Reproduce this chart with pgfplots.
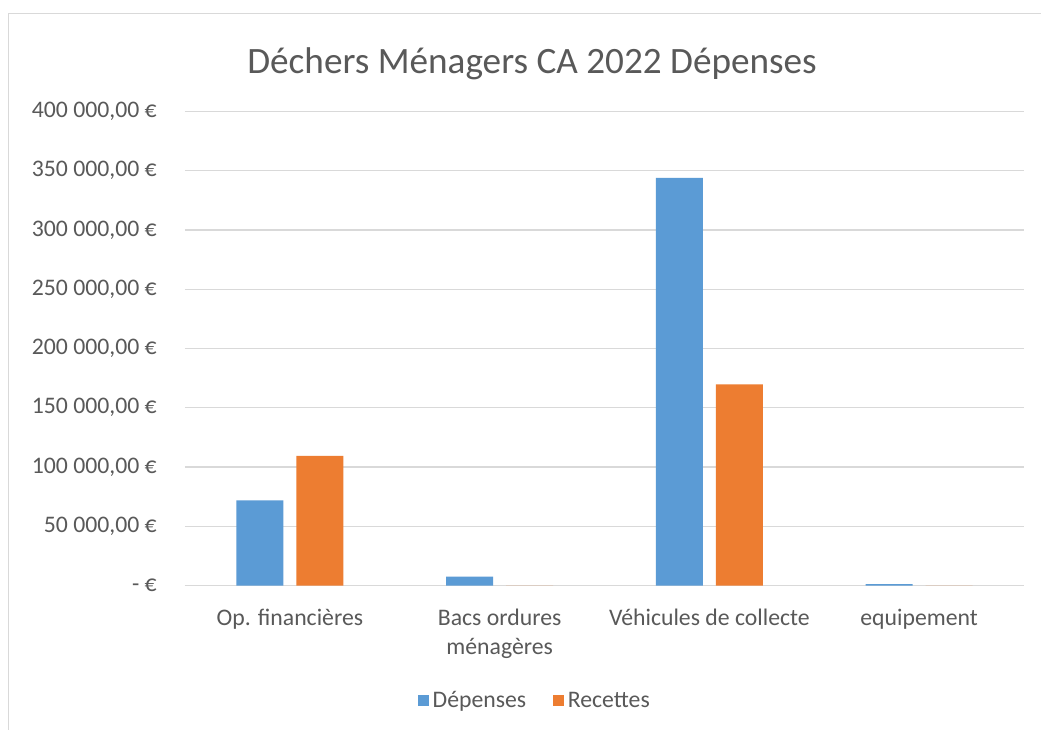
\documentclass[border=0pt]{standalone}
\usepackage{fontspec}
\setmainfont{Carlito}
\usepackage{pgfplots}
\pgfplotsset{compat=1.18}
\definecolor{cblue}{HTML}{5B9BD5}
\definecolor{corange}{HTML}{ED7D31}
\definecolor{ctext}{HTML}{595959}
\definecolor{cgrid}{HTML}{D9D9D9}
\begin{document}
\begin{tikzpicture}
\useasboundingbox (0,0) rectangle (780.75pt,546.75pt);
\fill[white] (0,0) rectangle (780.75pt,546.75pt);
\draw[cgrid, line width=1.25pt] (6.375pt,-10pt) -- (6.375pt,536.6pt) -- (800pt,536.6pt);
\begin{axis}[
  at={(138.75pt,107.475pt)}, anchor=south west,
  scale only axis, width=629.25pt, height=355.8pt,
  ybar=9.75pt, bar width=35.25pt,
  ymin=0, ymax=400000,
  xmin=-0.5, xmax=3.5,
  xtick={0,1,2,3},
  xticklabels={Op. financières, {Bacs ordures\\ménagères}, Véhicules de collecte, equipement},
  ytick={0,50000,...,400000},
  yticklabels={{- €},{50 000,00 €},{100 000,00 €},{150 000,00 €},{200 000,00 €},{250 000,00 €},{300 000,00 €},{350 000,00 €},{400 000,00 €}},
  scaled y ticks=false,
  ymajorgrids, grid style={cgrid, line width=1pt},
  axis x line*=bottom, axis y line*=left,
  x axis line style={cgrid, line width=1pt, -},
  y axis line style={draw=none},
  major tick length=0pt,
  tick label style={font=\fontsize{17.8}{21.75}\selectfont, text=ctext},
  yticklabel style={anchor=east, inner sep=0pt, xshift=-21pt},
  xticklabel style={anchor=north, inner sep=0pt, yshift=-17.25pt, align=center},
  title={Déchers Ménagers CA 2022 Dépenses},
  title style={at={(axis description cs:0.4136,1.083)}, anchor=center, font=\fontsize{27.9}{33}\selectfont, text=ctext, inner sep=0pt},
  legend columns=2,
  legend style={at={(axis description cs:0.4172,-0.251)}, anchor=center, draw=none, fill=none, font=\fontsize{17.8}{21}\selectfont, text=ctext, nodes={text depth=0.3em, text height=0.75em}, /tikz/every odd column/.append style={column sep=1pt}, /tikz/every even column/.append style={column sep=18pt}},
  legend image code/.code={\fill[#1] (2pt,-1.2pt) rectangle (10.25pt,7.05pt);},
]
\addplot[fill=cblue, draw=none] coordinates {(0,72000) (1,7600) (2,343800) (3,1400)};
\addplot[fill=corange, draw=none] coordinates {(0,109400) (1,0) (2,169800) (3,0)};
\legend{Dépenses, Recettes}
\end{axis}
\end{tikzpicture}
\end{document}
